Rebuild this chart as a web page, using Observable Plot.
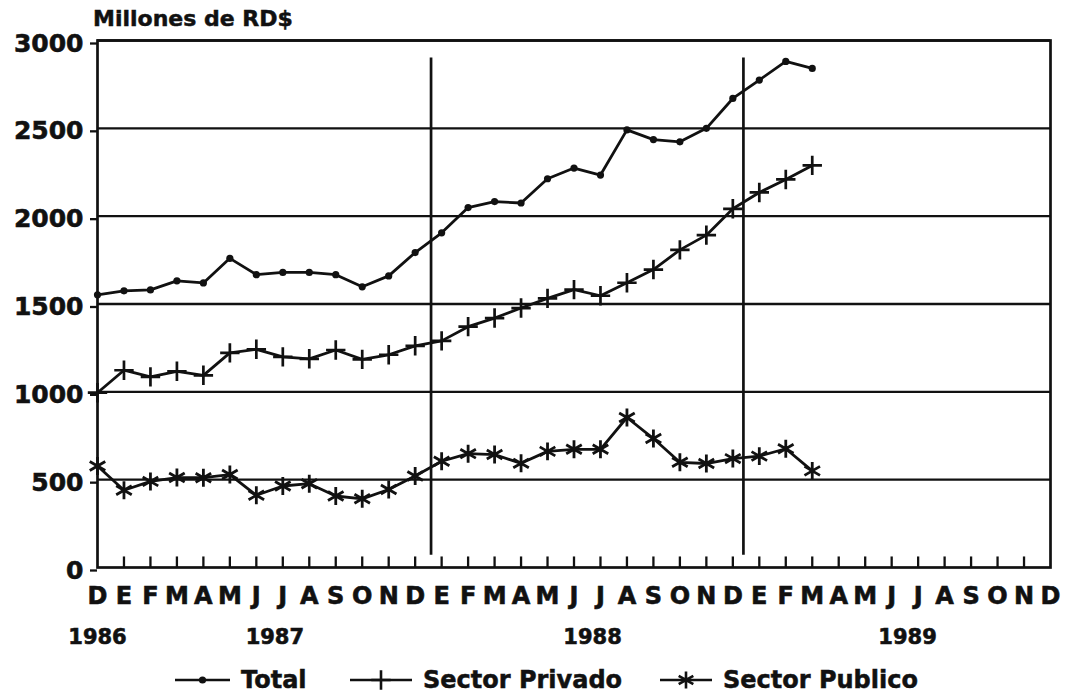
<!DOCTYPE html>
<html>
<head>
<meta charset="utf-8">
<script src="https://cdn.jsdelivr.net/npm/d3@7"></script>
<script src="https://cdn.jsdelivr.net/npm/@observablehq/plot@0.6"></script>
<style>
  html, body { margin: 0; padding: 0; background: #fff; }
  body { width: 1068px; height: 699px; overflow: hidden; font-family: "DejaVu Sans", sans-serif; font-weight: bold; color: #111; }
  #title { height: 34px; box-sizing: border-box; padding: 7px 0 0 93px; font-size: 22px; line-height: 24px; -webkit-text-stroke: 0.5px #111; }
  #legend { position: relative; height: 42px; font-size: 24px; -webkit-text-stroke: 0.5px #111; }
  #legend .item { position: absolute; top: 4px; height: 38px; display: flex; align-items: center; white-space: nowrap; }
  #legend svg { display: block; margin-right: 11px; }
  #chart svg text { stroke: #111; stroke-width: 0.6px; }
</style>
</head>
<body>
<div id="title">Millones de RD$</div>
<div id="chart"></div>
<div id="legend"></div>
<script>
// ---- data (Dec 1986 .. Mar 1989, monthly) ----
const monthLabels = "D E F M A M J J A S O N D E F M A M J J A S O N D E F M A M J J A S O N D".split(" ");
const total   = [1552, 1575, 1580, 1632, 1620, 1760, 1667, 1680, 1680, 1667, 1598, 1660, 1793, 1905, 2049, 2083, 2075, 2213, 2274, 2234, 2491, 2436, 2423, 2500, 2670, 2775, 2881, 2841];
const privado = [995, 1123, 1085, 1117, 1094, 1222, 1242, 1199, 1188, 1238, 1185, 1211, 1262, 1290, 1371, 1420, 1477, 1532, 1582, 1547, 1621, 1696, 1808, 1892, 2042, 2135, 2209, 2289];
const publico = [578, 440, 490, 512, 511, 529, 411, 464, 477, 407, 391, 444, 521, 605, 648, 643, 593, 661, 673, 673, 854, 734, 599, 592, 620, 634, 676, 550];
const yTicks = [0, 500, 1000, 1500, 2000, 2500, 3000];
const yearNames = ["1986", "1987", "1988", "1989"];
const yearPos = [0, 6.7, 18.7, 30.6];
const yearDividers = [12.6, 24.4];
const seriesNames = ["Total", "Sector Privado", "Sector Publico"];

const ink = "#111";
const rows = total.map((v, i) => ({i, total: v, privado: privado[i], publico: publico[i]}));
const monthIdx = monthLabels.map((d, i) => i);
const innerTicks = monthIdx.slice(1, -1);
const years = yearNames.map((name, k) => ({name, x: yearPos[k]}));

const marks = [
  Plot.ruleY(yTicks.slice(1), {stroke: ink, strokeWidth: 2.3}),
  Plot.frame({stroke: ink, strokeWidth: 2.7}),
  Plot.ruleX(innerTicks, {x: d => d, y1: 0, y2: 60, stroke: ink, strokeWidth: 2.3}),
  Plot.ruleX(yearDividers, {x: d => d, y1: 70, y2: 2900, stroke: ink, strokeWidth: 2.7}),
  Plot.line(rows, {x: "i", y: "total", stroke: ink, strokeWidth: 2.8}),
  Plot.dot(rows, {x: "i", y: "total", r: 3.6, fill: ink, stroke: null}),
  Plot.line(rows, {x: "i", y: "privado", stroke: ink, strokeWidth: 2.8}),
  Plot.dot(rows, {x: "i", y: "privado", symbol: "plus", r: 6.3, stroke: ink, strokeWidth: 2.7}),
  Plot.line(rows, {x: "i", y: "publico", stroke: ink, strokeWidth: 2.8}),
  Plot.dot(rows, {x: "i", y: "publico", symbol: "asterisk", r: 8.5, stroke: ink, strokeWidth: 2.8}),
  Plot.axisY({ticks: yTicks, tickFormat: d => String(d), tickSize: 7, tickPadding: 7, fontSize: 25, fontWeight: "bold", dy: 3, label: null, strokeWidth: 2.3}),
  Plot.axisX({ticks: monthIdx, tickFormat: i => monthLabels[i], tickSize: 0, tickPadding: 19, fontSize: 24, fontWeight: "bold", label: null}),
  Plot.text(years, {x: "x", text: "name", frameAnchor: "bottom", dy: 76, fontSize: 21, fontWeight: "bold", fill: ink})
];

const chart = Plot.plot({
  width: 1068,
  height: 623,
  marginLeft: 97,
  marginRight: 18,
  marginTop: 6,
  marginBottom: 90,
  x: {domain: [0, 36]},
  y: {domain: [0, 3000]},
  style: {fontFamily: "DejaVu Sans", fontWeight: "bold", color: ink, background: "#fff", overflow: "visible"},
  marks
});
document.getElementById("chart").appendChild(chart);

// ---- legend ----
const legend = document.getElementById("legend");
const legendLeft = [175, 350, 660];
const symW = [55, 62, 52];
const symbols = ["dot", "plus", "asterisk"];
seriesNames.forEach((name, k) => {
  const item = document.createElement("div");
  item.className = "item";
  item.style.left = legendLeft[k] + "px";
  const w = symW[k];
  const svg = d3.create("svg").attr("width", w).attr("height", 26);
  svg.append("line").attr("x1", 0).attr("x2", w).attr("y1", 13).attr("y2", 13).attr("stroke", ink).attr("stroke-width", 2.6);
  const c = w / 2;
  if (symbols[k] === "dot") {
    svg.append("circle").attr("cx", c).attr("cy", 13).attr("r", 3.6).attr("fill", ink);
  } else {
    const type = symbols[k] === "plus" ? d3.symbolPlus : d3.symbolAsterisk;
    const size = symbols[k] === "plus" ? Math.PI * 6.3 * 6.3 : Math.PI * 64;
    svg.append("path").attr("transform", `translate(${c},13)`).attr("d", d3.symbol(type, size)())
      .attr("fill", "none").attr("stroke", ink).attr("stroke-width", 2.6);
  }
  item.appendChild(svg.node());
  const span = document.createElement("span");
  span.textContent = name;
  item.appendChild(span);
  legend.appendChild(item);
});
</script>
</body>
</html>
